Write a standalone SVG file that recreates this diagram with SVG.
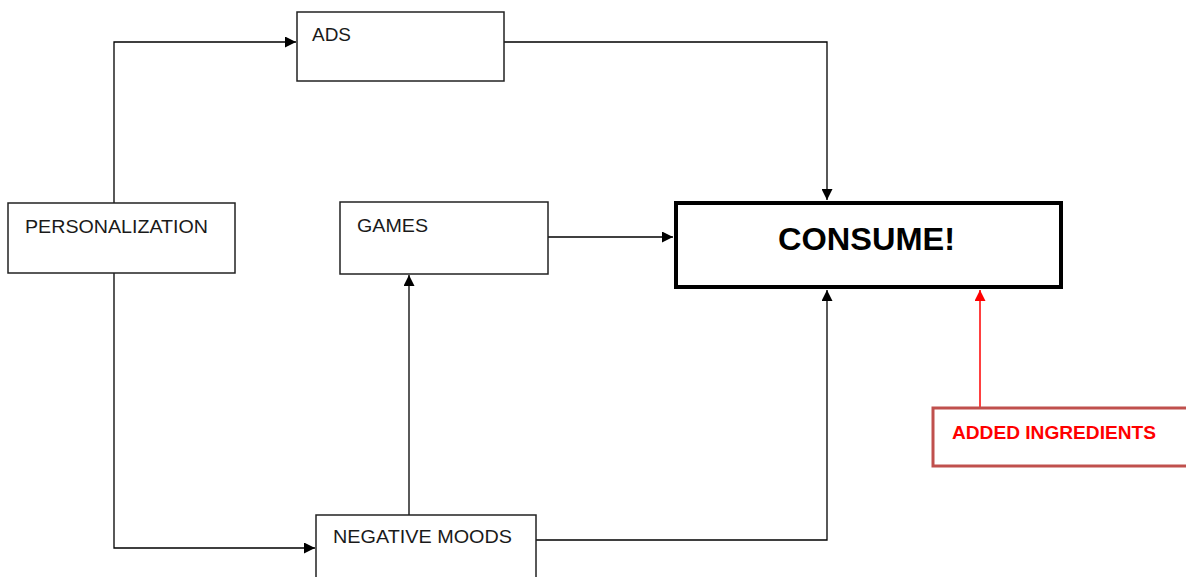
<svg xmlns="http://www.w3.org/2000/svg" width="1186" height="577" viewBox="0 0 1186 577">
<style>
.box{fill:#fff;stroke:#222;stroke-width:1.5}
.lbl{font-family:"Liberation Sans",Arial,sans-serif;font-size:19px;fill:#1a1a1a}
.con{fill:none;stroke:#000;stroke-width:1.3}
</style>
<defs>
<marker id="ah" viewBox="0 0 10 10" refX="10" refY="5" markerWidth="11" markerHeight="11" markerUnits="userSpaceOnUse" orient="auto">
<path d="M0,0 L10,5 L0,10 z" fill="#000"/>
</marker>
<marker id="ahr" viewBox="0 0 10 10" refX="10" refY="5" markerWidth="11" markerHeight="11" markerUnits="userSpaceOnUse" orient="auto">
<path d="M0,0 L10,5 L0,10 z" fill="#ff0000"/>
</marker>
</defs>
<rect width="1186" height="577" fill="#fff"/>
<g id="connectors">
<path class="con" d="M114,203 V42 H296" marker-end="url(#ah)"/>
<path class="con" d="M114,273 V548 H315" marker-end="url(#ah)"/>
<path class="con" d="M504,42 H827 V200" marker-end="url(#ah)"/>
<path class="con" d="M548,237 H673" marker-end="url(#ah)"/>
<path class="con" d="M409,515 V275" marker-end="url(#ah)"/>
<path class="con" d="M536,540 H827 V290" marker-end="url(#ah)"/>
<path d="M980,407 V290" fill="none" stroke="#ff0000" stroke-width="1.5" marker-end="url(#ahr)"/>
</g>
<g id="ads">
<rect class="box" x="297" y="12" width="207" height="69"/>
<text class="lbl" x="312" y="41" textLength="39" lengthAdjust="spacingAndGlyphs">ADS</text>
</g>
<g id="personalization">
<rect class="box" x="8" y="203" width="227" height="70"/>
<text class="lbl" x="25" y="233" textLength="183" lengthAdjust="spacingAndGlyphs">PERSONALIZATION</text>
</g>
<g id="games">
<rect class="box" x="340" y="202" width="208" height="72"/>
<text class="lbl" x="357" y="232" textLength="71" lengthAdjust="spacingAndGlyphs">GAMES</text>
</g>
<g id="consume">
<rect x="676" y="203" width="385" height="84" fill="#fff" stroke="#000" stroke-width="4"/>
<text x="778" y="250" font-family="'Liberation Sans',Arial,sans-serif" font-size="32" font-weight="bold" fill="#000" textLength="177" lengthAdjust="spacingAndGlyphs">CONSUME!</text>
</g>
<g id="negative-moods">
<rect class="box" x="316" y="515" width="220" height="70"/>
<text class="lbl" x="333" y="543" textLength="179" lengthAdjust="spacingAndGlyphs">NEGATIVE MOODS</text>
</g>
<g id="added-ingredients">
<rect x="933" y="408" width="256" height="58" fill="#fff" stroke="#c0504d" stroke-width="3"/>
<text x="952" y="439" font-family="'Liberation Sans',Arial,sans-serif" font-size="18" font-weight="bold" fill="#ff0000" textLength="204" lengthAdjust="spacingAndGlyphs">ADDED INGREDIENTS</text>
</g>
</svg>
